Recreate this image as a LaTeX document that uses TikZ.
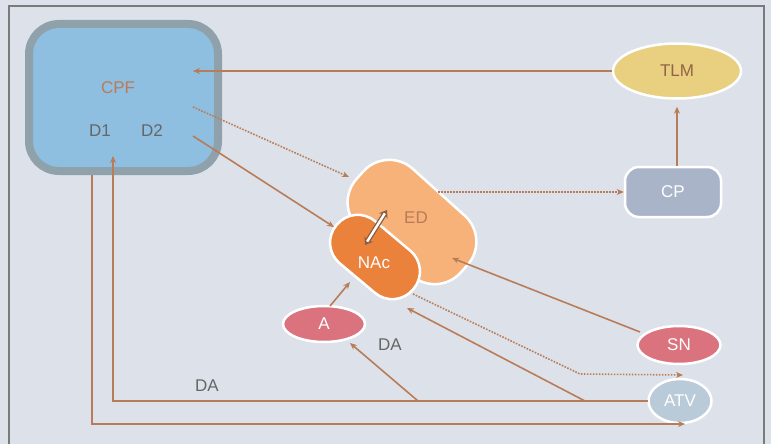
\documentclass[tikz,border=0pt]{standalone}
\usepackage{fontspec}
\setmainfont{Liberation Sans}
\usetikzlibrary{arrows.meta,shapes.geometric,calc}
\definecolor{bg}{HTML}{DDE2EA}
\definecolor{framec}{HTML}{7A7A7A}
\definecolor{arr}{HTML}{B97C58}
\definecolor{cpfborder}{HTML}{8FA2AC}
\definecolor{cpffill}{HTML}{8EBEE0}
\definecolor{tlmfill}{HTML}{E8D080}
\definecolor{cpfill}{HTML}{A9B4C8}
\definecolor{edfill}{HTML}{F7B27A}
\definecolor{nacfill}{HTML}{EB823C}
\definecolor{redfill}{HTML}{DB737E}
\definecolor{atvfill}{HTML}{B9CAD8}
\definecolor{greytext}{HTML}{666666}
\begin{document}
\begin{tikzpicture}[x=1pt,y=-1pt,
  conn/.style={draw=arr, line width=1.6pt, -{Stealth[length=7pt,width=6pt]}},
  dots/.style={dash pattern=on 1.6pt off 1.4pt},
  whiteedge/.style={draw=white, line width=2.5pt},
  lbl/.style={font=\fontsize{17}{17}\selectfont, inner sep=0pt}]

\fill[bg] (0,0) rectangle (771,444);
\useasboundingbox (0,0) rectangle (771,444);
\draw[framec, line width=1.2pt] (9,444) -- (9,6) -- (764,6) -- (764,444);

% nodes
\node[draw=cpfborder, line width=8pt, fill=cpffill, rounded corners=30pt,
      minimum width=189pt, minimum height=147pt] (CPF) at (123.5,97.5) {};
\node[lbl, text=arr] (cpft) at (118,88) {CPF};
\node[lbl, text=greytext] (D1) at (100,131) {D1};
\node[lbl, text=greytext] (D2) at (152,131) {D2};

\node[ellipse, whiteedge, fill=tlmfill, minimum width=128pt, minimum height=55pt] (TLM) at (677,71) {};
\node[lbl, text=arr!80!black] at (TLM) {TLM};

\node[rectangle, whiteedge, fill=cpfill, rounded corners=14pt,
      minimum width=96pt, minimum height=50pt] (CP) at (673,192) {};
\node[lbl, text=white] at (CP) {CP};

\node[rectangle, rotate=-42, whiteedge, fill=edfill, rounded corners=35pt,
      minimum width=140pt, minimum height=80pt] (ED) at (412,222) {};
\node[lbl, text=arr] at (416,218) {ED};

\node[rectangle, rotate=-40, whiteedge, fill=nacfill, rounded corners=27pt,
      minimum width=100pt, minimum height=55pt] (NAc) at (375,257) {};
\node[lbl, text=white] at (374,263) {NAc};

\node[ellipse, whiteedge, fill=redfill, minimum width=82pt, minimum height=36pt] (A) at (324,324) {};
\node[lbl, text=white] at (A) {A};

\node[ellipse, whiteedge, fill=redfill, minimum width=83pt, minimum height=38pt] (SN) at (679,345) {};
\node[lbl, text=white] at (SN) {SN};

\node[ellipse, whiteedge, fill=atvfill, minimum width=63pt, minimum height=44pt] (ATV) at (680,401) {};
\node[lbl, text=white] at (ATV) {ATV};

% coordinates for arrow ends
\coordinate (cpfin) at (193,71);
\coordinate (cpfout1) at (193,107);
\coordinate (cpfout2) at (193,136);
\coordinate (edin1) at (349,177);
\coordinate (nacin1) at (334,227);
\coordinate (edout) at (438,192);
\coordinate (edin2) at (452,258);
\coordinate (snout) at (640,332);
\coordinate (aout) at (330,306);
\coordinate (nacin2) at (350,282);
\coordinate (nacout) at (413,294);
\coordinate (bend1) at (580,374);
\coordinate (atvin1) at (683,375);
\coordinate (atvout) at (648,401);
\coordinate (d1in) at (113,156);
\coordinate (bus1) at (418,401);
\coordinate (bus2) at (585,401);
\coordinate (ain) at (350,343);
\coordinate (nacin3) at (407,308);
\coordinate (cpfbot) at (92,175);
\coordinate (atvin2) at (685,424);

% connectors
\draw[conn] (TLM.west) -- (cpfin);
\draw[conn, dots] (cpfout1) -- (edin1);
\draw[conn] (cpfout2) -- (nacin1);
\draw[conn, dots] (edout) -- (CP.west);
\draw[conn, shorten >=7pt] (CP.north -| TLM.south) -- (TLM.south);
\draw[conn] (snout) -- (edin2);
\draw[conn] (aout) -- (nacin2);
\draw[conn, dots] (nacout) -- (bend1) -- (atvin1);
\draw[conn] (atvout) -- (113,401) -- (d1in);
\draw[conn] (bus1) -- (ain);
\draw[conn] (bus2) -- (nacin3);
\draw[conn] (cpfbot) -- (92,424) -- (atvin2);

% NAc <-> ED exchange arrow (hollow double-headed)
\coordinate (ex1) at (365,245);
\coordinate (ex2) at (387,210);
\draw[draw=arr!75!black, line width=5pt,
      {Stealth[length=7pt,width=10pt]}-{Stealth[length=7pt,width=10pt]}] (ex1) -- (ex2);
\draw[draw=white, line width=2.4pt, shorten <=4pt, shorten >=4pt] (ex1) -- (ex2);

% labels
\node[lbl, text=greytext] (DA1) at (390,345) {DA};
\node[lbl, text=greytext] (DA2) at (207,386) {DA};
\end{tikzpicture}
\end{document}
